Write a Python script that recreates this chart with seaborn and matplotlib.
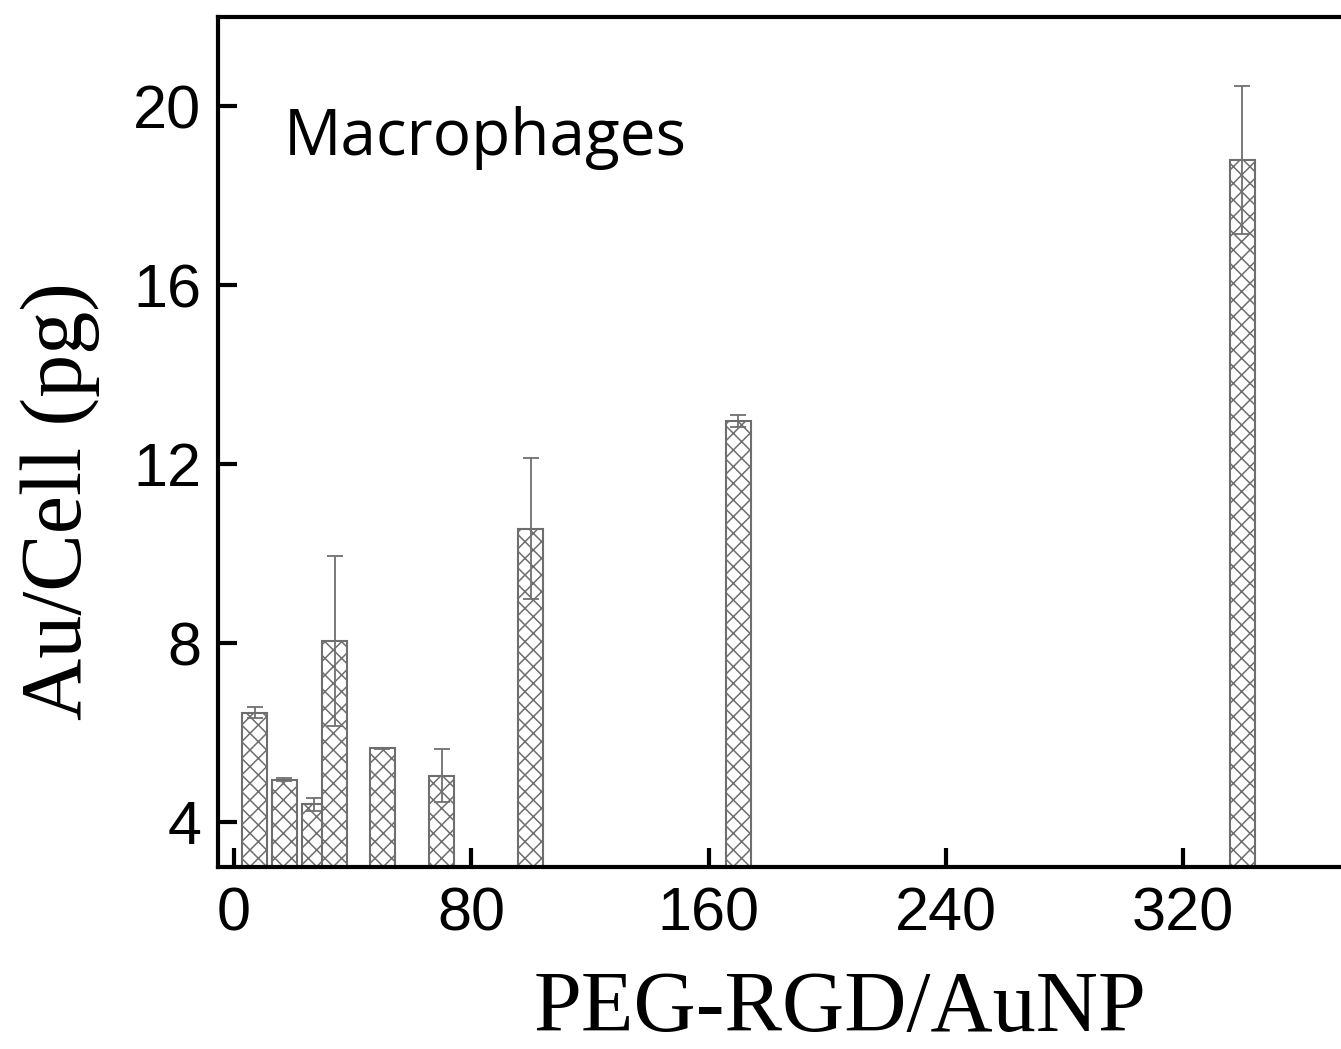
import numpy as np
import pandas as pd
import matplotlib
matplotlib.use("Agg")
import matplotlib.pyplot as plt
import seaborn as sns

# ---- data ----
peg_rgd = [7, 17, 27, 34, 50, 70, 100, 170, 340]
au_per_cell = [6.45, 4.95, 4.40, 8.05, 5.65, 5.04, 10.56, 12.97, 18.80]
au_err = [0.13, 0.03, 0.14, 1.90, 0.02, 0.59, 1.58, 0.13, 1.66]
x_ticks = [0, 80, 160, 240, 320]
y_ticks = [4, 8, 12, 16, 20]
panel_label = "Macrophages"
x_label = "PEG-RGD/AuNP"
y_label = "Au/Cell (pg)"

df = pd.DataFrame({"x": peg_rgd, "y": au_per_cell})

sns.set_style("white")
plt.rcParams["font.family"] = ["Liberation Sans", "DejaVu Sans"]
plt.rcParams["text.color"] = "black"
plt.rcParams["axes.labelcolor"] = "black"
plt.rcParams["hatch.linewidth"] = 1.1
plt.rcParams["hatch.color"] = "#2e2e2e"

W, H = 1341, 1049
fig = plt.figure(figsize=(W / 100, H / 100), dpi=100)
left_px, right_px, top_px, bottom_px = 218, 1343, 17, 867
ax = fig.add_axes([left_px / W, 1 - bottom_px / H,
                   (right_px - left_px) / W, (bottom_px - top_px) / H])

bar_units = 8.4
min_gap = np.min(np.diff(sorted(peg_rgd)))
sns.barplot(data=df, x="x", y="y", native_scale=True, color="white",
            width=bar_units / min_gap, errorbar=None, ax=ax,
            edgecolor="#6e6e6e", linewidth=1.5, saturation=1)
for p in ax.patches:
    p.set_hatch("xx")
    p.set_facecolor("white")
    p.set_edgecolor("#6e6e6e")

ax.errorbar(peg_rgd, au_per_cell, yerr=au_err, fmt="none", ecolor="#707070",
            elinewidth=1.3, capsize=5.5, capthick=1.3, zorder=5)

ax.set_xlim(-5.4, (right_px - 234) / 2.966)
ax.set_ylim(3, 22)
ax.set_xticks(x_ticks)
ax.set_yticks(y_ticks)
ax.tick_params(axis="both", which="major", direction="in", length=14, width=3,
               color="black", labelsize=44, labelcolor="black",
               bottom=True, left=True, top=False, right=False)
ax.tick_params(axis="x", pad=14)
ax.tick_params(axis="y", pad=12)

for s in ["left", "bottom", "top"]:
    ax.spines[s].set_linewidth(3)
    ax.spines[s].set_color("black")
ax.spines["right"].set_visible(False)

ax.set_xlabel(x_label, fontsize=62, color="black",
              family=["Liberation Serif", "DejaVu Serif"])
ax.xaxis.set_label_coords(0.553, -0.168)
ax.xaxis.label.set_va("center")
ax.set_ylabel(y_label, fontsize=62, color="black",
              family=["Liberation Serif", "DejaVu Serif"])
ax.yaxis.set_label_coords(-0.14, 0.43)
ax.yaxis.label.set_va("center")

ax.text(0.058, 0.838, panel_label, transform=ax.transAxes, fontsize=46,
        color="black", family=["Open Sans", "DejaVu Sans"],
        ha="left", va="baseline")

fig.savefig("out.png", dpi=100)
